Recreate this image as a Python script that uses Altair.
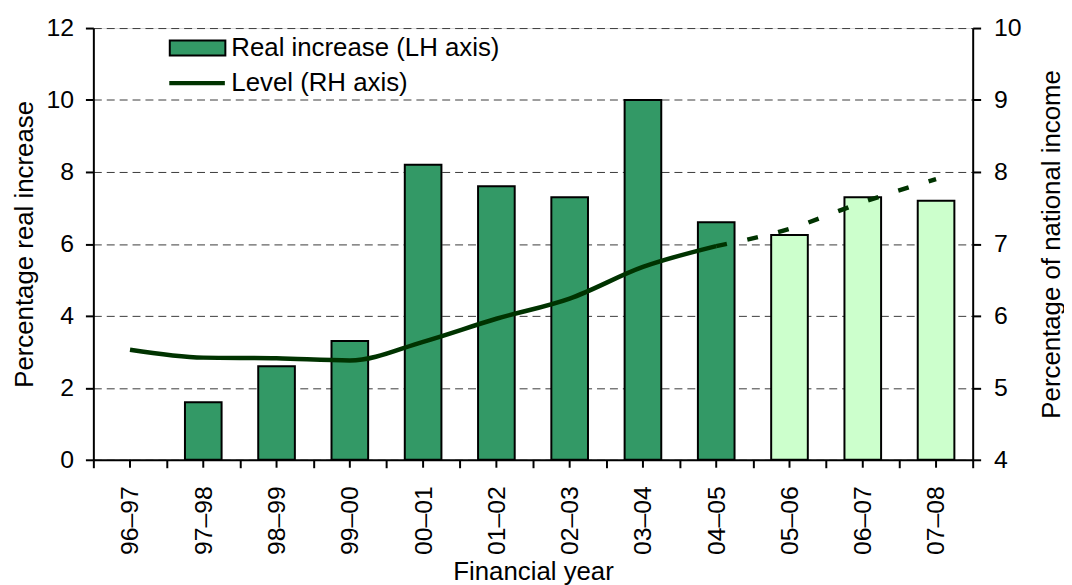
import altair as alt
import pandas as pd

years = ["96–97", "97–98", "98–99", "99–00", "00–01", "01–02",
         "02–03", "03–04", "04–05", "05–06", "06–07", "07–08"]
increase = [None, 1.6, 2.6, 3.3, 8.2, 7.6, 7.3, 10.0, 6.6, 6.25, 7.3, 7.2]
level = [5.53, 5.42, 5.41, 5.38, 5.64, 5.96, 6.24, 6.68, 6.97, 7.21, 7.58, 7.9]
bar_label = "Real increase (LH axis)"
line_label = "Level (RH axis)"
phase = [bar_label] * 9 + ["Projected"] * 3

df = pd.DataFrame({
    "year": years,
    "increase": increase,
    "level": level,
    "phase": phase,
    "series": [line_label] * len(years),
    "idx": list(range(len(years))),
})

FONT = "Liberation Sans"
TICK_FS = 25
TITLE_FS = 26

x_enc = alt.X(
    "year:N", sort=years,
    scale=alt.Scale(paddingInner=0, paddingOuter=0),
    axis=alt.Axis(
        title="Financial year", labelAngle=-90, tickBand="extent",
        tickSize=8, tickWidth=2, tickColor="black",
        domainColor="black", domainWidth=2,
        labelFontSize=TICK_FS, labelFont=FONT, labelColor="black", labelPadding=18,
        titleFontSize=TITLE_FS, titleFont=FONT, titleFontWeight="normal", titleColor="black",
        titleBaseline="alphabetic", titleY=121, grid=False,
    ),
)

bars = alt.Chart(df).mark_bar(
    width=alt.RelativeBandSize(0.5), stroke="black", strokeWidth=2
).encode(
    x=x_enc,
    y=alt.Y(
        "increase:Q",
        scale=alt.Scale(domain=[0, 12], nice=False),
        axis=alt.Axis(
            values=[0, 2, 4, 6, 8, 10, 12], title="Percentage real increase",
            grid=True, gridDash=[8, 5], gridColor="#3a3a3a", gridWidth=1,
            tickSize=8, tickWidth=2, tickColor="black",
            domainColor="black", domainWidth=2,
            labelFontSize=TICK_FS, labelFont=FONT, labelColor="black", labelPadding=12,
            titleFontSize=TITLE_FS, titleFont=FONT, titleFontWeight="normal", titleColor="black",
            titleBaseline="alphabetic", titleX=-61, titleAngle=-90,
        ),
    ),
    fill=alt.Fill(
        "phase:N",
        scale=alt.Scale(domain=[bar_label, "Projected"], range=["#339966", "#CCFFCC"]),
        legend=alt.Legend(
            values=[bar_label], title=None, orient="none", legendX=76, legendY=-9,
            symbolType="M-1,-0.27H1V0.27H-1Z", symbolSize=3136,
            symbolStrokeColor="black", symbolStrokeWidth=2,
            labelFontSize=TITLE_FS, labelFont=FONT, labelColor="black", labelOffset=5,
            labelLimit=0, padding=0,
        ),
    ),
)

center_ticks = alt.Chart(df).mark_rule(color="black", strokeWidth=2).encode(
    x=alt.X("year:N", sort=years),
    y=alt.value(435),
    y2=alt.value(443),
)

y_right = alt.Y(
    "level:Q",
    scale=alt.Scale(domain=[4, 10], nice=False),
    axis=alt.Axis(
        orient="right", values=[4, 5, 6, 7, 8, 9, 10],
        title="Percentage of national income", grid=False,
        tickSize=8, tickWidth=2, tickColor="black",
        domainColor="black", domainWidth=2,
        labelFontSize=TICK_FS, labelFont=FONT, labelColor="black", labelPadding=13,
        titleFontSize=TITLE_FS, titleFont=FONT, titleFontWeight="normal", titleColor="black",
        titleBaseline="alphabetic", titleX=87, titleAngle=-90,
    ),
)

line_solid = alt.Chart(df).transform_filter("datum.idx <= 8").mark_line(
    strokeWidth=4.5, interpolate="monotone"
).encode(
    x=alt.X("year:N", sort=years),
    y=y_right,
    stroke=alt.Stroke(
        "series:N",
        scale=alt.Scale(domain=[line_label], range=["#003300"]),
        legend=alt.Legend(
            title=None, orient="none", legendX=74, legendY=25,
            symbolType="stroke", symbolSize=3136, symbolStrokeWidth=4.5,
            labelFontSize=TITLE_FS, labelFont=FONT, labelColor="black", labelOffset=4,
            labelLimit=0, padding=0,
        ),
    ),
)

line_dash = alt.Chart(df).transform_filter("datum.idx >= 8").mark_line(
    strokeWidth=4.5, interpolate="monotone", strokeDash=[11, 21], color="#003300"
).encode(
    x=alt.X("year:N", sort=years),
    y=y_right,
)

lines = alt.layer(line_solid, line_dash)

chart = alt.layer(bars, center_ticks, lines).resolve_scale(
    y="independent"
).properties(
    width=886, height=435,
    padding={"left": 86, "top": 18, "right": 92, "bottom": 130},
    autosize=alt.AutoSizeParams(type="none"),
).configure_view(stroke=None).configure(background="white")

chart.save("out.html", embed_options={"renderer": "svg", "actions": False})
